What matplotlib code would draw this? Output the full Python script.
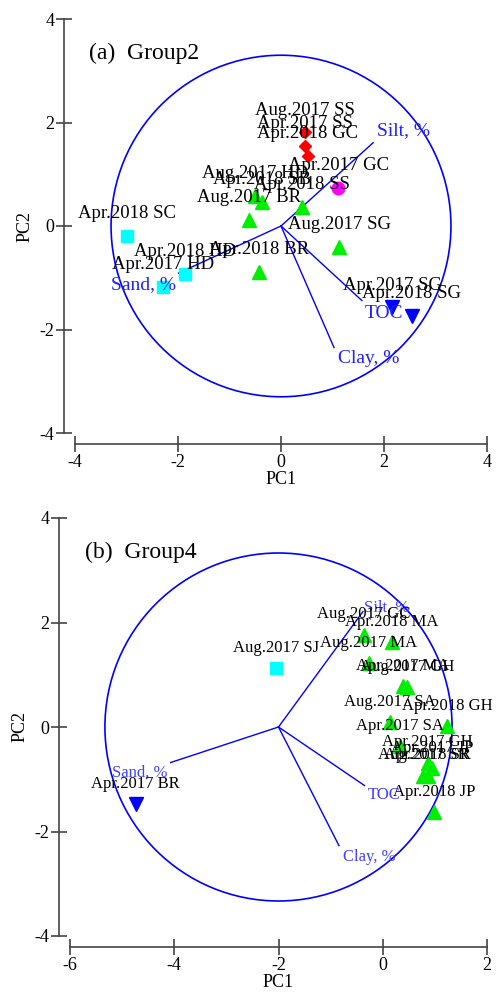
import matplotlib
matplotlib.use('Agg')
import matplotlib.pyplot as plt
from matplotlib.patches import Circle

plt.rcParams['font.family'] = ['Liberation Serif', 'DejaVu Serif']
plt.rcParams['axes.unicode_minus'] = False

# ---- (a) Group2 : scores des sites ----
g2_labels = ["Apr.2018 SC", "Apr.2018 HD", "Apr.2017 HD", "Aug.2017 BR", "Aug.2017 HD",
             "Apr.2018 SB", "Apr.2018 BR", "Apr.2018 SS", "Aug.2017 SG", "Aug.2017 SS",
             "Apr.2017 SS", "Apr.2018 GC", "Apr.2017 GC", "Apr.2017 SG", "Apr.2018 SG"]
g2_pc1 = [-2.99, -1.86, -2.29, -0.62, -0.50, -0.37, -0.43, 0.41, 1.13, 0.47,
          0.47, 0.52, 1.11, 2.16, 2.54]
g2_pc2 = [-0.19, -0.93, -1.18, 0.12, 0.58, 0.47, -0.89, 0.37, -0.41, 1.81,
          1.55, 1.36, 0.74, -1.57, -1.73]
g2_cluster = [1, 1, 1, 2, 2, 2, 2, 2, 2, 3, 3, 3, 4, 5, 5]

# vecteurs (variables) groupe 2
g2_vars = ["Silt, %", "Sand, %", "TOC", "Clay, %"]
g2_vx = [1.79, -1.99, 1.57, 1.03]
g2_vy = [1.61, -0.91, -1.44, -2.35]
g2_origin = (0.0, 0.0)
g2_radius = 3.3

# ---- (b) Group4 ----
g4_labels = ["Aug.2017 SJ", "Apr.2017 BR", "Aug.2017 GC", "Apr.2018 MA", "Aug.2017 MA",
             "Apr.2017 MA", "Aug.2017 GH", "Aug.2017 SA", "Apr.2018 GH", "Apr.2017 SA",
             "Apr.2017 GH", "Apr.2017 JP", "Aug.2017 SR", "Apr.2018 SR", "Apr.2018 JP"]
g4_pc1 = [-2.05, -4.74, -0.36, 0.17, -0.27, 0.38, 0.46, 0.13, 1.23, 0.33,
          0.86, 0.94, 0.77, 0.86, 0.98]
g4_pc2 = [1.12, -1.48, 1.77, 1.63, 1.23, 0.78, 0.76, 0.09, 0.01, -0.37,
          -0.68, -0.79, -0.93, -0.93, -1.62]
g4_cluster = [1, 5, 2, 2, 2, 2, 2, 2, 2, 2, 2, 2, 2, 2, 2]

g4_vars = ["Silt, %", "Sand, %", "TOC", "Clay, %"]
g4_vx = [-0.38, -4.07, -0.35, -0.84]
g4_vy = [2.21, -0.68, -1.12, -2.27]
g4_origin = (-2.0, 0.0)
g4_radius = 3.33

# style des groupes (cluster -> marqueur)
styles = {
    1: dict(marker='s', color='#00ffff', ms=9),
    2: dict(marker='^', color='#00ee00', ms=10),
    3: dict(marker='D', color='#ff0000', ms=6.5),
    4: dict(marker='o', color='#ff00ff', ms=9),
    5: dict(marker='v', color='#0000ff', ms=10),
}

# decalage des etiquettes des vecteurs (points, ha)
g2_voff = [((3, 9), 'left'), ((-2, -8), 'right'), ((2, -9), 'left'), ((3, -8), 'left')]
g4_voff = [((1, 3), 'left'), ((-2, -7), 'right'), ((2, -7), 'left'), ((3, -8), 'left')]


def draw_panel(ax, pc1, pc2, clusters, labels, vars_, vx, vy, origin, radius,
               voff, title, xlim, xticks, lab_size, lab_off, var_size, var_color):
    ax.add_patch(Circle(origin, radius, fill=False, ec='#0000ff', lw=1.2))
    for name, x, y, (off, ha) in zip(vars_, vx, vy, voff):
        ax.plot([origin[0], x], [origin[1], y], color='#0000ff', lw=1)
        ax.annotate(name, (x, y), xytext=off, textcoords='offset points',
                    ha=ha, va='center', color=var_color, fontsize=var_size)
    for x, y, c, lab in zip(pc1, pc2, clusters, labels):
        st = styles[c]
        ax.plot(x, y, linestyle='none', marker=st['marker'], color=st['color'],
                ms=st['ms'], mec=st['color'])
        ax.annotate(lab, (x, y), xytext=(0, lab_off), textcoords='offset points',
                    ha='center', va='center', fontsize=lab_size, color='black')
    ax.set_xlim(*xlim)
    ax.set_ylim(-4, 4)
    ax.set_xticks(xticks)
    ax.set_yticks([-4, -2, 0, 2, 4])
    for s in ['top', 'right']:
        ax.spines[s].set_visible(False)
    for s in ['left', 'bottom']:
        ax.spines[s].set_position(('outward', 8))
        ax.spines[s].set_color('#444444')
        ax.spines[s].set_linewidth(1.2)
    ax.spines['bottom'].set_bounds(xlim[0], xlim[1])
    ax.spines['left'].set_bounds(-4, 4)
    ax.tick_params(direction='inout', length=12, width=1.2, color='#444444',
                   labelsize=13, pad=1)
    ax.set_xlabel('PC1', fontsize=13, labelpad=0)
    ax.set_ylabel('PC2', fontsize=13, labelpad=4)
    ax.text(0.035, 0.918, title, transform=ax.transAxes, fontsize=17,
            ha='left', va='center')
    ax.patch.set_visible(False)


fig = plt.figure(figsize=(4.96, 9.92), dpi=100)
ax1 = fig.add_axes([75 / 496, 1 - 433 / 992, 412 / 496, 414 / 992])
ax2 = fig.add_axes([70 / 496, 1 - 936 / 992, 417 / 496, 418 / 992])

draw_panel(ax1, g2_pc1, g2_pc2, g2_cluster, g2_labels, g2_vars, g2_vx, g2_vy,
           g2_origin, g2_radius, g2_voff, '(a)  Group2', (-4, 4), [-4, -2, 0, 2, 4],
           13.5, 16, 14, '#2020ff')
draw_panel(ax2, g4_pc1, g4_pc2, g4_cluster, g4_labels, g4_vars, g4_vx, g4_vy,
           g4_origin, g4_radius, g4_voff, '(b)  Group4', (-6, 2), [-6, -4, -2, 0, 2],
           12, 14.5, 12, '#4040ff')

fig.savefig('out.png', dpi=100)
